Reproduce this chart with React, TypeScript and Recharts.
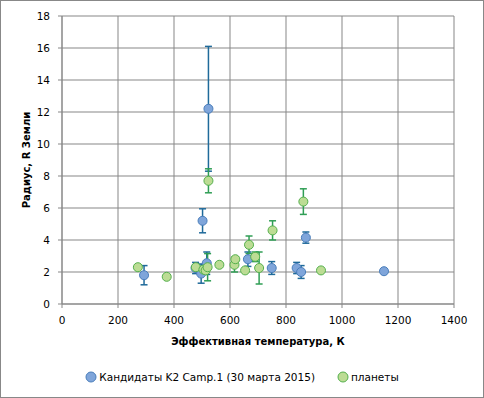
import { CartesianGrid, ErrorBar, Legend, Scatter, ScatterChart, XAxis, YAxis, ZAxis } from "recharts"

// Кандидаты K2 Camp.1
const candTemp = [293, 477, 497, 502, 517, 523, 664, 749, 838, 854, 871, 1150]
const candRadius = [1.8, 2.25, 1.9, 5.2, 2.55, 12.2, 2.8, 2.25, 2.25, 2.0, 4.15, 2.05]
const candErr = [0.6, 0.35, 0.6, 0.75, 0.7, 3.9, 0.45, 0.4, 0.35, 0.4, 0.35, 0]

// планеты
const planetTemp = [271, 374, 478, 505, 513, 520, 523, 562, 616, 619, 654, 668, 690, 704, 752, 862, 925]
const planetRadius = [2.3, 1.7, 2.3, 2.15, 2.1, 2.3, 7.7, 2.45, 2.45, 2.8, 2.1, 3.7, 2.95, 2.25, 4.6, 6.4, 2.1]
const planetErr = [0, 0, 0.1, 0, 0, 0.85, 0.75, 0, 0.45, 0.15, 0, 0.55, 0.3, 1.0, 0.6, 0.8, 0]

const xTicks = [0, 200, 400, 600, 800, 1000, 1200, 1400]
const yTicks = [0, 2, 4, 6, 8, 10, 12, 14, 16, 18]

const candData = candTemp.map((t, i) => ({ t, r: candRadius[i], e: candErr[i] }))
const planetData = planetTemp.map((t, i) => ({ t, r: planetRadius[i], e: planetErr[i] }))

const FONT = "'DejaVu Sans', Verdana, sans-serif"
const GRID = "#878787"

const seriesStyle: Record<string, { fill: string; stroke: string }> = {
  "Кандидаты K2 Camp.1 (30 марта 2015)": { fill: "#7fa5da", stroke: "#4a7ebb" },
  "планеты": { fill: "#bcdc94", stroke: "#55b04d" },
}

function LegendBox(props: any) {
  const items = props.payload || []
  return (
    <div
      style={{
        display: "flex",
        justifyContent: "center",
        alignItems: "center",
        height: 50,
        paddingTop: 8,
        boxSizing: "border-box",
        fontFamily: FONT,
        fontSize: 10.5,
        color: "#000",
      }}
    >
      {items.map((it: any) => {
        const st = seriesStyle[it.value] || { fill: it.color, stroke: it.color }
        return (
          <div key={it.value} style={{ display: "flex", alignItems: "center", margin: "0 11px" }}>
            <svg width={12} height={12} style={{ marginRight: 2 }}>
              <circle cx={6} cy={6} r={5} fill={st.fill} stroke={st.stroke} />
            </svg>
            <span>{it.value}</span>
          </div>
        )
      })}
    </div>
  )
}

export default function App() {
  return (
    <div style={{ position: "absolute", left: 0, top: 0, width: 484, height: 398, background: "#fff" }}>
      <ScatterChart width={484} height={398} margin={{ top: 16, right: 30, left: 0, bottom: 0 }}>
        <CartesianGrid stroke={GRID} strokeWidth={1} />
        <XAxis
          type="number"
          dataKey="t"
          domain={[0, 1400]}
          ticks={xTicks}
          height={44}
          stroke={GRID}
          tickSize={4}
          tickMargin={9}
          tick={{ fill: "#000", fontSize: 10.5, fontFamily: FONT }}
          label={(p: any) => {
            const vb = p.viewBox
            return (
              <text
                x={vb.x + vb.width / 2}
                y={vb.y + 37}
                textAnchor="middle"
                dominantBaseline="central"
                fontFamily={FONT}
                fontSize={10}
                fontWeight="bold"
                fill="#000"
              >
                Эффективная температура,  К
              </text>
            )
          }}
        />
        <YAxis
          type="number"
          dataKey="r"
          domain={[0, 18]}
          ticks={yTicks}
          width={62}
          stroke={GRID}
          tickSize={4}
          tickMargin={8}
          tick={{ fill: "#000", fontSize: 10.5, fontFamily: FONT }}
          label={(p: any) => {
            const vb = p.viewBox
            const cx = vb.x + 26
            const cy = vb.y + vb.height / 2
            return (
              <text
                x={cx}
                y={cy}
                transform={`rotate(-90 ${cx} ${cy})`}
                textAnchor="middle"
                dominantBaseline="central"
                fontFamily={FONT}
                fontSize={10}
                fontWeight="bold"
                fill="#000"
              >
                Радиус,  R Земли
              </text>
            )
          }}
        />
        <ZAxis range={[100, 100]} />
        <Legend verticalAlign="bottom" content={LegendBox} wrapperStyle={{ left: 0, width: 484 }} />
        <Scatter
          name="Кандидаты K2 Camp.1 (30 марта 2015)"
          data={candData}
          fill="#7fa5da"
          stroke="#4a7ebb"
          strokeWidth={1}
          isAnimationActive={false}
        >
          <ErrorBar dataKey="e" direction="y" width={3.5} stroke="#1f6a9a" strokeWidth={1.5} />
        </Scatter>
        <Scatter
          name="планеты"
          data={planetData}
          fill="#bcdc94"
          stroke="#55b04d"
          strokeWidth={1}
          isAnimationActive={false}
        >
          <ErrorBar dataKey="e" direction="y" width={3.5} stroke="#2f9e55" strokeWidth={1.5} />
        </Scatter>
      </ScatterChart>
      <div
        style={{
          position: "absolute",
          inset: 0,
          border: "1px solid #888",
          boxSizing: "border-box",
          pointerEvents: "none",
        }}
      />
    </div>
  )
}
